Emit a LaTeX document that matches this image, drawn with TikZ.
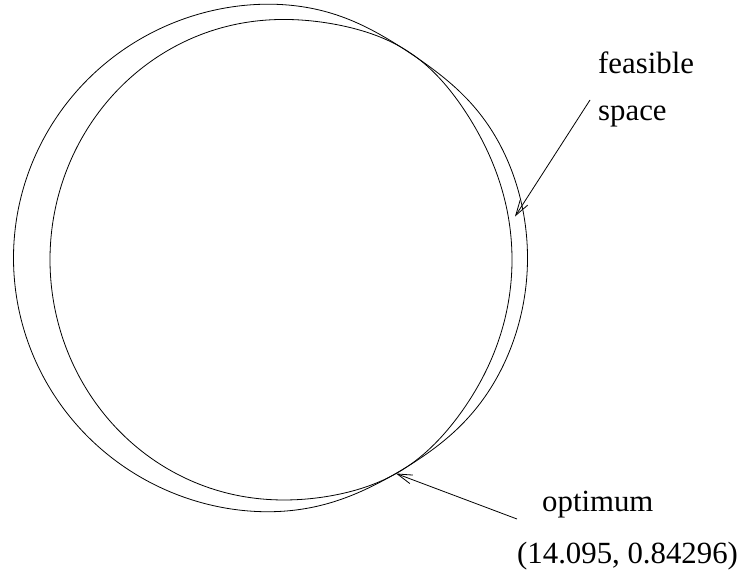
\documentclass[tikz,border=0pt]{standalone}
\usepackage{fontspec}
\setmainfont{Liberation Serif}
\usetikzlibrary{arrows.meta}
\begin{document}
\begin{tikzpicture}[x=1pt,y=-1pt,
  curve/.style={line width=0.8pt,line join=round},
  pointer/.style={line width=0.8pt,-{Straight Barb[length=15pt,width=9pt]}},
  lbl/.style={anchor=base west,inner sep=0pt,font=\fontsize{30.8}{36}\selectfont},
  declare function={
    bo(\t)=7*exp(-(min(abs(\t-56),60)/18)^2)+5.5*exp(-(min(abs(\t-301),60)/18)^2);
    bi(\t)=6.5*exp(-(min(abs(\t-57),60)/18)^2)+5*exp(-(min(abs(\t-301),60)/18)^2);
  }]
\useasboundingbox (0,0) rectangle (743,573);
% outer region
\draw[curve] plot[domain=0:360,samples=361]
  ({270.5+(257-bo(\x))*cos(\x)},{258-(254-bo(\x))*sin(\x)}) -- cycle;
% inner region
\draw[curve] plot[domain=0:360,samples=361]
  ({281+(231+bi(\x))*cos(\x)},{259.7-(240+bi(\x))*sin(\x)}) -- cycle;
% labels
\node[lbl] (feas) at (598,73.5) {feasible};
\node[lbl] (space) at (598,120) {space};
\node[lbl] (opt) at (542,511.5) {optimum};
\node[lbl] (val) at (517,563) {(14.095, 0.84296)};
% pointers
\coordinate (fsTail) at (590,100);
\coordinate (fsTip) at (515,216.5);
\coordinate (optTail) at (517,519);
\coordinate (optTip) at (396,473.5);
\draw[pointer] (fsTail) -- (fsTip);
\draw[pointer] (optTail) -- (optTip);
\end{tikzpicture}
\end{document}
